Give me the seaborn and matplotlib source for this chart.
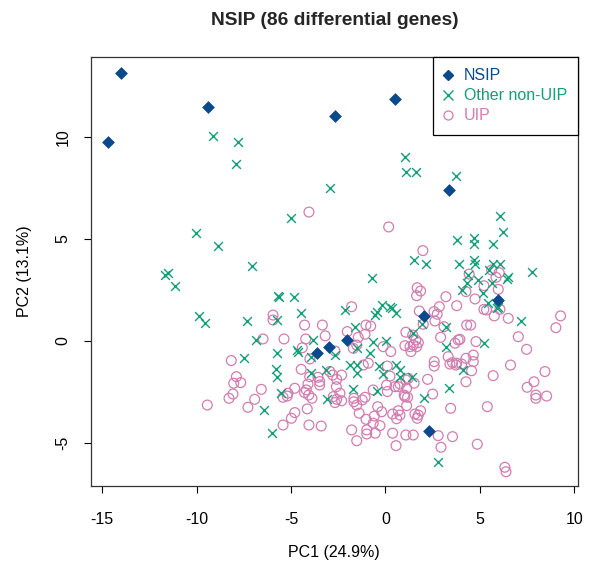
import matplotlib
matplotlib.use("Agg")
import matplotlib.pyplot as plt
from matplotlib.lines import Line2D
import seaborn as sns
import pandas as pd

# ---------------- data ----------------
nsip_x = [-14.68, -13.98, -9.39, -2.69, 0.50, 3.38, 5.94, 2.04, -2.05, -3.61, -2.97, 2.30]
nsip_y = [9.74, 13.15, 11.47, 11.03, 11.85, 7.39, 2.03, 1.23, 0.05, -0.60, -0.28, -4.40]

other_x = [-9.11, -7.80, -7.93, -2.92, -4.98, -10.04, -8.86, -7.05, 1.05, 1.08,
           1.61, 3.71, 6.04, 6.20, 3.77, 4.70, 4.67, 5.69, 1.51, 2.13,
           3.87, 4.70, 4.75, 5.70, 6.06, 4.38, 5.49, 6.50, 6.41, 7.73,
           4.91, 4.30, 5.62, 4.03, 5.17, 5.44, 5.88, 5.97, 7.17, 5.23,
           -11.68, -11.51, -11.12, -9.88, -9.57, -7.31, -6.84, -7.49, -5.69, -5.64,
           -4.86, -4.49, -5.72, -3.84, -5.72, -4.67, -4.61, -3.93, -5.78, -5.72,
           -3.13, -2.69, -5.51, -6.43, -5.99, -3.08, -3.94, -0.73, -0.20, 0.24,
           0.33, -0.47, -0.56, 0.56, 1.91, 3.20, 1.47, -1.61, -2.14, -0.65,
           0.03, -1.52, -0.82, 3.20, -1.88, -1.49, -1.49, -0.33, 0.56, 0.77,
           0.77, -0.12, 1.39, -0.47, -1.70, 2.05, 3.38, 4.08, 2.76]
other_y = [10.03, 9.75, 8.69, 7.50, 6.05, 5.31, 4.66, 3.66, 9.03, 8.27,
           8.27, 8.07, 6.13, 5.34, 4.97, 5.03, 4.77, 4.74, 3.95, 3.78,
           3.76, 3.96, 3.79, 3.76, 3.79, 3.24, 3.48, 3.15, 3.02, 3.37,
           2.99, 2.86, 2.83, 2.50, 2.34, 1.88, 1.60, 1.68, 1.00, -0.08,
           3.24, 3.35, 2.71, 1.23, 0.90, 0.98, 0.05, -0.82, 2.21, 2.17,
           2.14, 1.36, 1.03, 0.05, -0.57, -0.44, -0.55, -0.77, -1.39, -1.78,
           -1.42, -0.69, -2.57, -3.38, -4.49, -2.86, -1.58, 3.07, 1.76, 1.68,
           1.60, 1.44, 1.27, 1.36, 0.82, 0.70, 0.38, 0.70, 1.52, -0.03,
           0.01, -0.33, -0.60, -0.28, -1.18, -1.18, -1.55, -1.23, -1.18, -1.42,
           -1.75, -1.62, -1.75, -2.44, -2.35, -2.78, -2.32, -1.42, -5.95]

uip_x = [-4.05, 0.17, 1.98,
         5.62, 6.02, 5.85, 4.43, 4.26, 5.21, 5.97, 4.74, 5.21, 5.35,
         6.06, 5.76, 6.50, 4.30, 4.51, 7.03, 9.27, 9.02, 7.47, 4.79,
         3.94, 4.26, 4.65, 4.65, 6.62, 4.56, 4.26, 5.70, 8.44, 7.86,
         7.50, 7.96, 7.96, 8.53, 5.39, 4.86, 6.32, 6.38,
         1.68, 1.86, 1.65, 3.20, 3.77, 2.85, 2.57, 2.74, 1.79, 2.62,
         2.00, 3.10, -1.79, -1.03, -0.78, -1.08, 1.08, 1.44, 2.92, 1.61,
         1.74, 3.85, 3.68, 1.03, 1.30, 1.47, 1.65, -0.12, 0.28, 1.35,
         -1.70, -1.52, -2.02, -1.44, 3.32, 2.58, 2.58, 3.77, 3.55, 2.23,
         2.50, 1.03, 1.12, 1.17, 3.45, 1.86, 1.74, 1.68, 1.56, 2.79,
         3.55, 2.94, 1.08, 1.47, 0.56, 0.38, -0.54, -0.99, -0.99, -1.52,
         -1.79, -0.29, 0.38, 0.59, 0.77, 0.68, -0.41, -0.20, -0.59, -0.65,
         -1.03, -1.39, -1.08, -1.23, -1.67, -1.67, -1.52, -0.65, 0.06, 0.10,
         0.99, 1.12, 1.52, 1.08, 0.50, 0.68, 0.77, -0.91, -1.17, 0.10,
         0.24, 3.41, 3.73, 4.03, 1.21,
         -5.95, -5.95, -6.48, -5.37, -4.28, -3.34, -3.19, -4.22, -4.40, -8.16,
         -7.89, -8.03, -7.66, -8.07, -8.28, -9.43, -7.28, -6.92, -6.57, -5.42,
         -5.16, -5.20, -4.80, -4.46, -4.10, -4.19, -4.28, -4.06, -4.01, -3.57,
         -3.48, -3.48, -3.89, -4.14, -4.80, -4.98, -5.42, -4.05, -3.40, -2.67,
         -4.00, -2.94, -2.79, -2.58, -2.32, -2.76, -2.58, -2.41, -2.32, -2.67,
         -2.60]
uip_y = [6.32, 5.59, 4.43,
         3.48, 3.35, 3.12, 3.28, 2.42, 2.71, 2.53, 2.06, 1.55, 1.52,
         1.55, 1.23, 1.11, 0.78, 0.78, 0.21, 1.23, 0.65, -0.41, -0.03,
         0.08, -0.85, -0.69, -1.01, -1.18, -1.46, -2.00, -1.70, -1.50, -2.00,
         -2.27, -2.65, -2.81, -2.70, -3.22, -5.06, -6.19, -6.41,
         2.61, 2.45, 2.22, 2.17, 1.73, 1.68, 1.44, 1.31, 1.47, 0.98,
         0.82, 0.70, 1.68, 0.78, 0.73, 0.33, 0.43, 0.29, 0.18, 0.05,
         -0.08, 0.05, -0.11, -0.23, -0.28, -0.20, -0.28, -0.28, -0.52, -0.52,
         -0.36, -0.20, 0.46, 0.18, -0.77, -1.01, -1.23, -1.09, -1.06, -1.88,
         -2.60, -2.73, -3.17, -2.76, -3.30, -3.42, -3.63, -3.79, -3.58, -4.64,
         -4.69, -5.21, -4.61, -4.61, -5.13, -4.52, -4.52, -4.36, -4.56, -4.89,
         -4.36, -4.15, -3.58, -3.81, -3.63, -3.42, -3.22, -3.47, -3.68, -4.03,
         -3.84, -3.54, -2.76, -2.89, -2.81, -2.98, -3.14, -2.40, -2.16, -2.48,
         -2.65, -2.32, -2.07, -1.91, -2.24, -2.24, -2.11, -1.09, -1.18, -1.23,
         -1.72, -1.13, -1.18, -1.13, -1.83,
         1.27, 1.03, 0.10, 0.10, 0.78, 0.78, 0.25, 0.10, -0.33, -0.96,
         -1.75, -2.07, -2.04, -2.60, -2.81, -3.14, -3.25, -2.86, -2.37, -2.76,
         -2.56, -2.70, -2.32, -1.39, -2.11, -2.40, -2.53, -2.65, -1.75, -1.78,
         -1.99, -2.16, -2.81, -3.33, -3.51, -3.79, -4.12, -4.12, -4.17, -0.49,
         -0.88, -1.50, -1.67, -1.88, -1.67, -2.73, -2.86, -2.56, -2.93, -3.02,
         -2.24]

groups = ["NSIP", "Other non-UIP", "UIP"]
x_ticks = [-15, -10, -5, 0, 5, 10]
y_ticks = [-5, 0, 5, 10]

df = pd.concat([
    pd.DataFrame({"PC1": nsip_x, "PC2": nsip_y, "group": "NSIP"}),
    pd.DataFrame({"PC1": other_x, "PC2": other_y, "group": "Other non-UIP"}),
    pd.DataFrame({"PC1": uip_x, "PC2": uip_y, "group": "UIP"}),
], ignore_index=True)

# ---------------- style ----------------
sns.set_theme(style="white")
plt.rcParams["font.family"] = ["Liberation Sans", "DejaVu Sans"]
FS = 11.5

col_nsip = "#0A4A8C"
col_other = "#10A077"
col_uip = "#D27DB0"

fig = plt.figure(figsize=(5.89, 5.73), dpi=100)
ax = fig.add_axes([0.154, 0.1518, 0.9813 - 0.154, 0.9005 - 0.1518])

sub = df[df.group == "UIP"]
sns.scatterplot(data=sub, x="PC1", y="PC2", marker="o", s=50,
                facecolors="none", edgecolor=col_uip, linewidth=0.9, ax=ax, legend=False)
sub = df[df.group == "Other non-UIP"]
sns.scatterplot(data=sub, x="PC1", y="PC2", marker="x", s=40,
                color=col_other, linewidth=1.0, ax=ax, legend=False)
sub = df[df.group == "NSIP"]
sns.scatterplot(data=sub, x="PC1", y="PC2", marker="D", s=36,
                color=col_nsip, edgecolor=col_nsip, linewidth=0.5, ax=ax, legend=False)

ax.set_xlim(-15.6, 10.19)
ax.set_ylim(-7.11, 13.92)
ax.set_xticks(x_ticks)
ax.set_yticks(y_ticks)
ax.set_xticklabels([str(t) for t in x_ticks], fontsize=FS)
ax.set_yticklabels([str(t) for t in y_ticks], fontsize=FS, rotation=90, va="center")
ax.tick_params(axis="both", direction="out", length=5, width=0.8, color="black",
               labelcolor="black", bottom=True, left=True)
ax.tick_params(axis="x", pad=14)
ax.tick_params(axis="y", pad=9.5)
for sp in ax.spines.values():
    sp.set_visible(True)
    sp.set_color("#333333")
    sp.set_linewidth(0.9)

ax.set_xlabel("PC1 (24.9%)", fontsize=FS, labelpad=13, color="black")
ax.set_ylabel("PC2 (13.1%)", fontsize=FS, labelpad=17, color="black")
ax.set_title("NSIP (86 differential genes)", fontsize=13.8, fontweight="bold", pad=23)

handles = [
    Line2D([], [], linestyle="none", marker="D", markersize=5, color=col_nsip),
    Line2D([], [], linestyle="none", marker="x", markersize=6.5, color=col_other, markeredgewidth=1.0),
    Line2D([], [], linestyle="none", marker="o", markersize=6.5, markerfacecolor="none",
           markeredgecolor=col_uip, markeredgewidth=0.9),
]
leg = ax.legend(handles, groups, loc="upper right", borderaxespad=0, fontsize=FS,
                frameon=True, fancybox=False, framealpha=1, edgecolor="black",
                handlelength=0.4, handletextpad=0.8, labelspacing=0.32, borderpad=0.7)
leg.get_frame().set_linewidth(0.9)
for txt, c in zip(leg.get_texts(), [col_nsip, col_other, col_uip]):
    txt.set_color(c)

fig.savefig("out.png", dpi=100)
